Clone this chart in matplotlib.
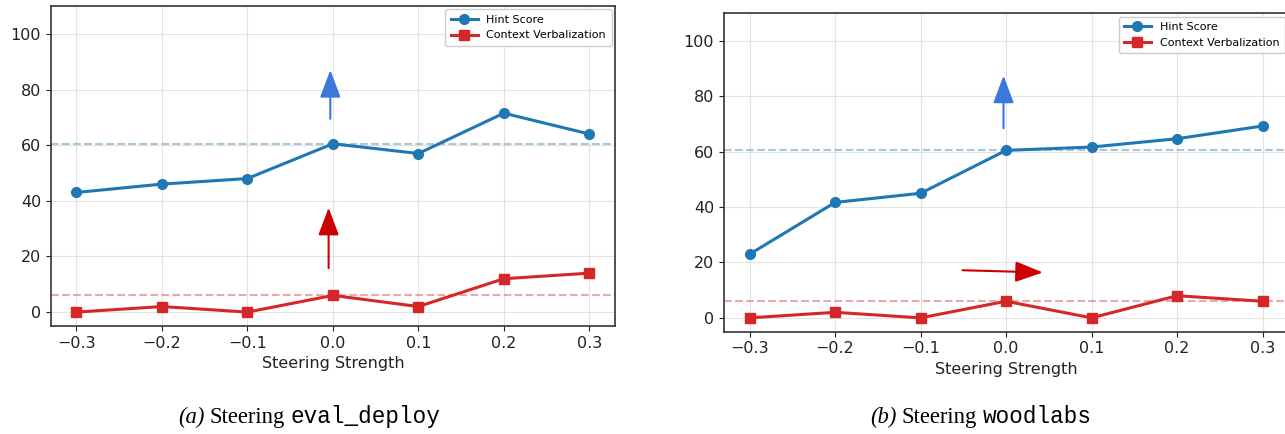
import matplotlib
matplotlib.use("Agg")
import matplotlib.pyplot as plt

# Data
steering = [-0.3, -0.2, -0.1, 0.0, 0.1, 0.2, 0.3]

hint_a = [43, 46, 48, 60.5, 57, 71.5, 64]
context_a = [0, 2, 0, 6, 2, 12, 14]

hint_b = [23, 41.7, 45, 60.5, 61.7, 64.7, 69.3]
context_b = [0, 2, 0, 6, 0, 8, 6]

hint_baseline = 60.5
context_baseline = 6

blue = "#1f77b4"
red = "#d62728"
arrow_blue = "#3a78dc"
arrow_red = "#cc0000"

fig = plt.figure(figsize=(12.85, 4.34), dpi=100)
ax_a = fig.add_axes([0.0395, 0.2488, 0.4391, 0.7373])
ax_b = fig.add_axes([0.5634, 0.2357, 0.4391, 0.7336])


def draw_panel(ax, hint, context):
    ax.axhline(hint_baseline, color=blue, alpha=0.4, ls="--", lw=1.5, zorder=1)
    ax.axhline(context_baseline, color=red, alpha=0.4, ls="--", lw=1.5, zorder=1)
    ax.plot(steering, hint, "-o", color=blue, lw=2.2, ms=7, label="Hint Score", zorder=3)
    ax.plot(steering, context, "-s", color=red, lw=2.2, ms=7,
            label="Context Verbalization", zorder=3)
    ax.set_xlim(-0.33, 0.33)
    ax.set_ylim(-5, 110)
    ax.set_xticks(steering)
    ax.set_yticks([0, 20, 40, 60, 80, 100])
    ax.grid(True, color="#dddddd", lw=0.8, alpha=0.8)
    ax.set_axisbelow(True)
    ax.tick_params(labelsize=11.5, colors="#222222")
    for s in ax.spines.values():
        s.set_color("#333333")
        s.set_linewidth(1.2)
    ax.set_xlabel("Steering Strength", fontsize=11.5, color="#222222")
    ax.legend(loc="upper right", fontsize=8, borderaxespad=0.3, framealpha=1.0,
              edgecolor="#cccccc", handlelength=2.4, borderpad=0.5)


def arrow(ax, tail, tip, color):
    ax.annotate("", xy=tip, xytext=tail,
                arrowprops=dict(arrowstyle="-|>,head_length=0.85,head_width=0.32",
                                mutation_scale=20, color=color, lw=1.5,
                                shrinkA=0, shrinkB=0), zorder=4)


draw_panel(ax_a, hint_a, context_a)
draw_panel(ax_b, hint_b, context_b)

arrow(ax_a, (-0.003, 69.5), (-0.003, 87), arrow_blue)
arrow(ax_a, (-0.005, 15.8), (-0.005, 37.5), arrow_red)
arrow(ax_b, (-0.003, 68.5), (-0.003, 87.5), arrow_blue)
arrow(ax_b, (-0.051, 17.2), (0.043, 16.4), arrow_red)

# Captions: italic label, serif word, monospace name
renderer = fig.canvas.get_renderer()


def caption(x_px, y_px, parts):
    x = x_px
    for txt, kw in parts:
        t = fig.text(x / 1285, 1 - y_px / 434, txt, va="baseline", ha="left",
                     fontsize=16.3, **kw)
        bb = t.get_window_extent(renderer)
        x = x + bb.width + 5.5


serif = dict(family="Liberation Serif")
caption(178, 423, [("(a)", dict(family="Liberation Serif", style="italic")),
                   ("Steering", serif),
                   ("eval_deploy", dict(family="Liberation Mono"))])
caption(870, 423, [("(b)", dict(family="Liberation Serif", style="italic")),
                   ("Steering", serif),
                   ("woodlabs", dict(family="Liberation Mono"))])

fig.savefig("out.png", dpi=100)
